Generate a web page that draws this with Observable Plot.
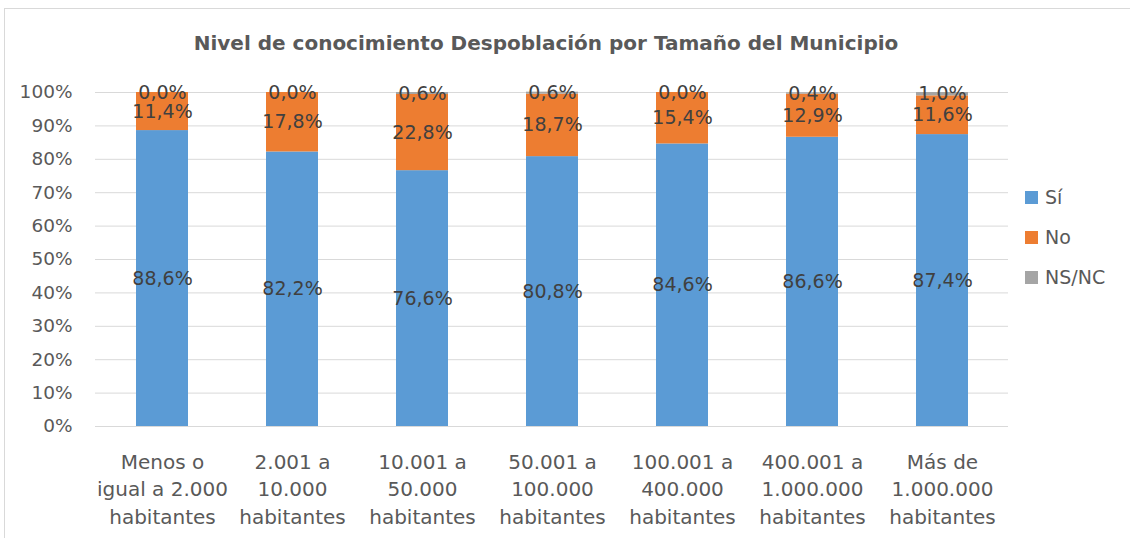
<!DOCTYPE html>
<html><head><meta charset="utf-8">
<script src="https://cdn.jsdelivr.net/npm/d3@7"></script>
<script src="https://cdn.jsdelivr.net/npm/@observablehq/plot@0.6"></script>
<style>
body{margin:0;background:#fff;font-family:"DejaVu Sans",sans-serif;}
#wrap{position:relative;width:1130px;height:538px;overflow:hidden;background:#fff;}
#frame{position:absolute;left:4px;top:8px;width:1140px;height:540px;border:1px solid #d9d9d9;box-sizing:border-box;}
#chart{position:absolute;left:0;top:0;}
#legend{position:absolute;left:1025px;top:177px;font-size:19px;color:#595959;}
.item{display:flex;align-items:center;height:40px;}
.sw{width:13px;height:13px;margin-right:7px;}
</style></head>
<body><div id="wrap"><div id="frame"></div><div id="chart"></div><div id="legend"></div></div>
<script>
const categories = ["Menos o\nigual a 2.000\nhabitantes","2.001 a\n10.000\nhabitantes","10.001 a\n50.000\nhabitantes","50.001 a\n100.000\nhabitantes","100.001 a\n400.000\nhabitantes","400.001 a\n1.000.000\nhabitantes","Más de\n1.000.000\nhabitantes"];
const series = ["Sí","No","NS/NC"];
const si = [88.6, 82.2, 76.6, 80.8, 84.6, 86.6, 87.4];
const no = [11.4, 17.8, 22.8, 18.7, 15.4, 12.9, 11.6];
const nsnc = [0.0, 0.0, 0.6, 0.6, 0.0, 0.4, 1.0];
const colors = ["#5b9bd5","#ed7d31","#a5a5a5"];
const yTicks = [0,10,20,30,40,50,60,70,80,90,100];
const title = "Nivel de conocimiento Despoblación por Tamaño del Municipio";

const values = [si, no, nsnc];
const data = [];
series.forEach((s, si_) => categories.forEach((c, i) => data.push({cat: c, serie: s, v: values[si_][i]})));
const fmt = v => v.toFixed(1).replace(".", ",") + "%";

const plot = Plot.plot({
  width: 1130, height: 538,
  marginTop: 92, marginBottom: 112, marginLeft: 95, marginRight: 122,
  style: {fontFamily: '"DejaVu Sans", sans-serif', background: "transparent"},
  x: {domain: categories, paddingInner: 0.6, paddingOuter: 0.3, label: null},
  y: {domain: [0, 100], label: null},
  color: {domain: series, range: colors},
  marks: [
    Plot.gridY(yTicks, {stroke: "#d9d9d9", strokeOpacity: 1, strokeWidth: 1}),
    Plot.barY(data, Plot.stackY({x: "cat", y: "v", fill: "serie", order: series})),
    Plot.text(data, Plot.stackY({x: "cat", y: "v", z: "serie", order: series, text: d => fmt(d.v), fill: "#404040", fontSize: 19})),
    Plot.axisY(yTicks, {tickSize: 0, tickPadding: 23, tickFormat: d => d + "%", fontSize: 18.5, fill: "#595959", label: null}),
    Plot.axisX({tickSize: 0, tickPadding: 23, fontSize: 20, fill: "#595959", lineHeight: 1.37, label: null}),
    Plot.text([title], {frameAnchor: "top", dy: -49, dx: -6, fontSize: 20, fontWeight: "bold", fill: "#595959", lineAnchor: "middle"})
  ]
});
document.getElementById("chart").appendChild(plot);

const lg = document.getElementById("legend");
series.forEach((s, i) => {
  const it = document.createElement("div"); it.className = "item";
  const sw = document.createElement("div"); sw.className = "sw"; sw.style.background = colors[i];
  const t = document.createElement("span"); t.textContent = s;
  it.appendChild(sw); it.appendChild(t); lg.appendChild(it);
});
</script></body></html>
